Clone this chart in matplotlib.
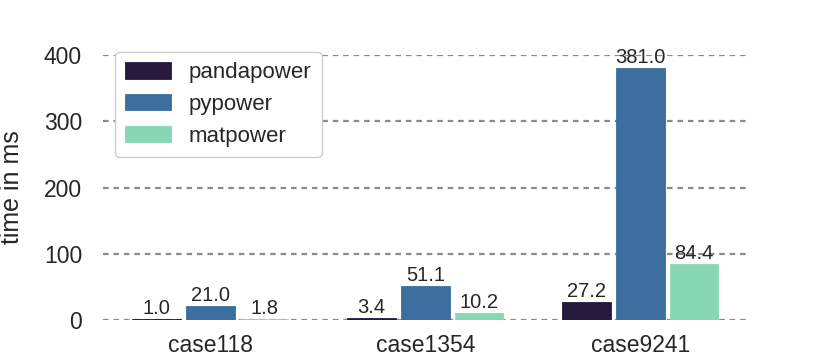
import numpy as np
import matplotlib.pyplot as plt

cases = ["case118", "case1354", "case9241"]
pandapower = [1.0, 3.4, 27.2]
pypower = [21.0, 51.1, 381.0]
matpower = [1.8, 10.2, 84.4]

series = [("pandapower", pandapower, "#28193f"),
          ("pypower", pypower, "#3c6f9f"),
          ("matpower", matpower, "#88d7b4")]

plt.rcParams["font.family"] = ["Liberation Sans", "DejaVu Sans"]

fig = plt.figure(figsize=(8.3, 3.62), dpi=100)
ax = fig.add_axes([0.124, 0.116, 0.777, 0.732])

x = np.arange(len(cases))
step = 0.25
width = 0.225
for i, (name, vals, color) in enumerate(series):
    pos = x + (i - 1) * step
    bars = ax.bar(pos, vals, width, color=color, edgecolor=color,
                  linewidth=0.6, label=name, zorder=3)
    for b, v in zip(bars, vals):
        ax.text(b.get_x() + b.get_width() / 2, v + 1.5, f"{v:.1f}",
                ha="center", va="bottom", fontsize=14.5, color="#262626", zorder=4)

ax.set_xlim(-0.5, 2.5)
ax.set_ylim(0, 400)
ax.set_yticks([0, 100, 200, 300, 400])
ax.set_xticks(x)
ax.set_xticklabels(cases)
ax.tick_params(axis="both", length=0, colors="#262626")
ax.tick_params(axis="y", labelsize=16.5, pad=15)
ax.tick_params(axis="x", labelsize=16.5, pad=10)
ax.set_ylabel("time in ms", fontsize=18, color="#262626", labelpad=14)
ax.yaxis.grid(True, linestyle=(0, (2.5, 2.2)), color="#8a8a8a", linewidth=1.6, zorder=0)
for s in ax.spines.values():
    s.set_visible(False)

leg = ax.legend(loc="upper left", fontsize=16, frameon=True, fancybox=True,
                edgecolor="#cccccc", handlelength=2.1, handleheight=0.75,
                borderpad=0.45, labelspacing=0.48, handletextpad=0.8,
                borderaxespad=0.0, bbox_to_anchor=(0.018, 1.01))
leg.get_frame().set_alpha(1.0)
for t in leg.get_texts():
    t.set_color("#262626")

fig.savefig("out.png", dpi=100)
